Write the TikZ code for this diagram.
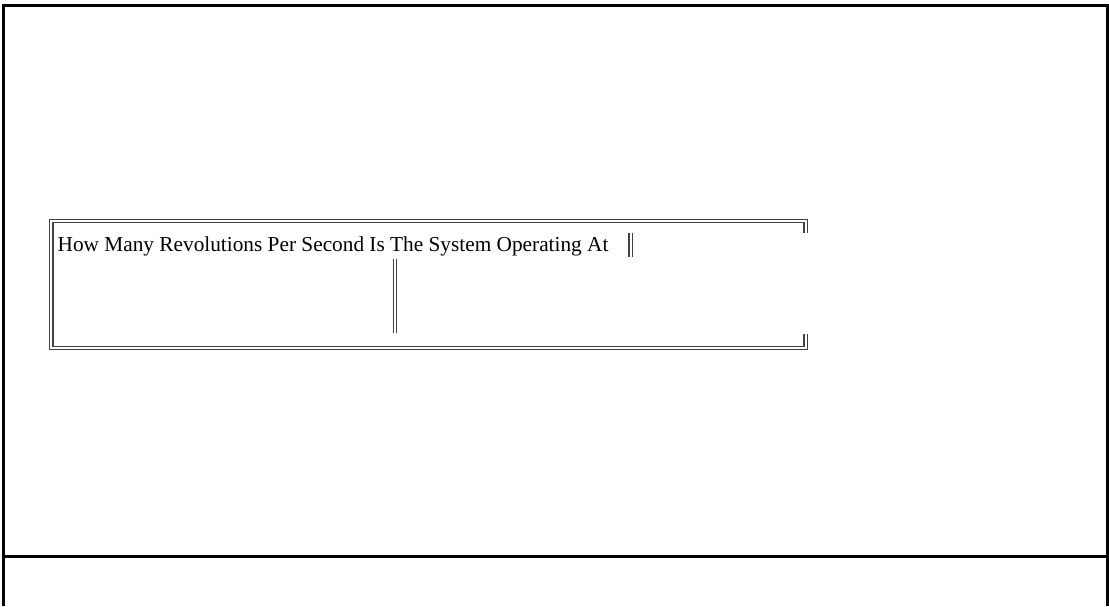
\documentclass[tikz,border=0pt]{standalone}
\usepackage{fontspec}
\setmainfont{Liberation Serif}
\begin{document}
\begin{tikzpicture}[x=1pt,y=-1pt,
  frame/.style={draw=black,line width=3pt},
  dbl/.style={draw=black!75,line width=1.3pt,double=white,double distance=2.1pt},
  label/.style={font=\fontsize{21.3}{26}\selectfont,inner sep=0pt,anchor=base west}]
  \useasboundingbox (0,0) rectangle (1109,606);
  % outer frame and footer divider
  \coordinate (fbl) at (3.5,606);
  \coordinate (ftl) at (3.5,5.5);
  \coordinate (ftr) at (1107.5,5.5);
  \coordinate (fbr) at (1107.5,606);
  \coordinate (dl) at (3.5,556.5);
  \coordinate (dr) at (1107.5,556.5);
  \draw[frame] (fbl) -- (ftl) -- (ftr) -- (fbr);
  \draw[frame] (dl) -- (dr);
  % question text
  \node[label] (q) at (57.5,251.7) {How Many Revolutions Per Second Is The System Operating At};
  % double-lined box around the question
  \coordinate (tr) at (805.8,233);
  \coordinate (trc) at (805.8,221.1);
  \coordinate (tlc) at (51.2,221.1);
  \coordinate (blc) at (51.2,348);
  \coordinate (brc) at (805.8,348);
  \coordinate (br) at (805.8,334);
  \draw[dbl] (tr) -- (trc) -- (tlc) -- (blc) -- (brc) -- (br);
  % inner dividers
  \coordinate (m1) at (395,259);
  \coordinate (m2) at (395,333);
  \draw[dbl] (m1) -- (m2);
  \coordinate (a1) at (630.7,233);
  \coordinate (a2) at (630.7,257);
  \draw[dbl] (a1) -- (a2);
\end{tikzpicture}
\end{document}
